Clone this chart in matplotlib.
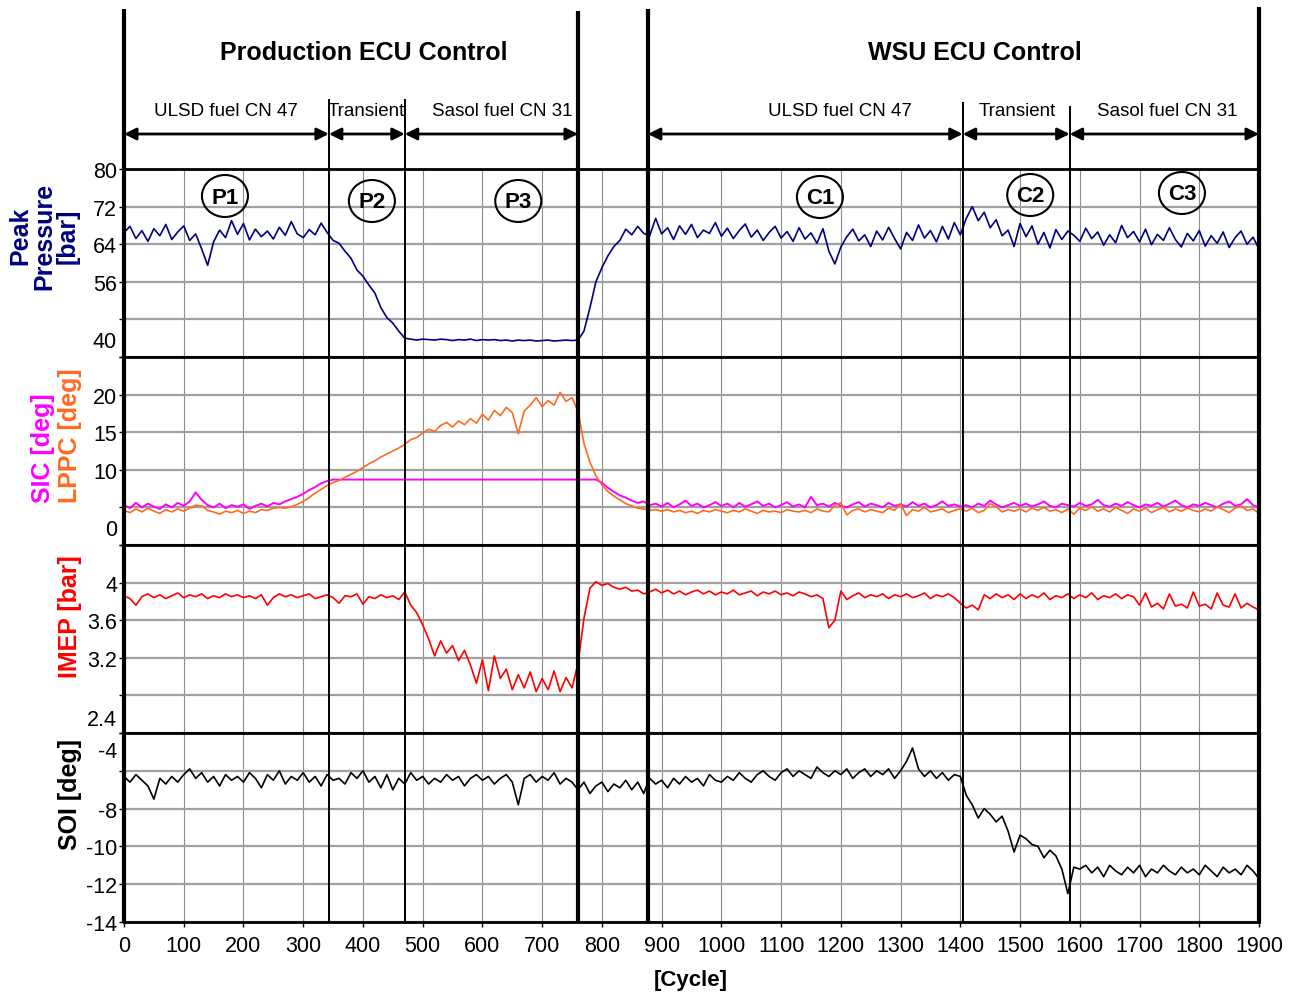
import numpy as np
import matplotlib.pyplot as plt
from matplotlib.patches import Ellipse

plt.rcParams['font.family'] = ['Liberation Sans', 'DejaVu Sans']
ANGOSTA = ['Liberation Sans Narrow', 'Liberation Sans', 'DejaVu Sans']

ciclo = np.arange(0, 1901, 10)

# Peak Pressure [bar]
presion = [
    66.5, 67.8, 65.2, 66.9, 64.6, 67.3, 65.8, 68.2, 65.0, 66.6,
    67.9, 64.8, 66.2, 63.0, 59.5, 64.5, 67.0, 65.4, 69.0, 66.1,
    68.4, 64.9, 67.2, 65.6, 66.8, 65.1, 67.6, 65.9, 68.8, 66.2,
    65.4, 67.1, 66.0, 68.5, 66.5, 64.8, 64.2, 62.5, 61.0, 58.5,
    57.2, 55.3, 53.6, 50.5, 48.4, 47.2, 45.5, 44.0, 43.8, 43.6,
    43.8, 43.7, 43.6, 43.8, 43.7, 43.5, 43.7, 43.6, 43.8, 43.5,
    43.7, 43.6, 43.7, 43.5, 43.6, 43.4, 43.6, 43.5, 43.6, 43.4,
    43.5, 43.6, 43.4, 43.5, 43.6, 43.5, 43.6, 45.5, 50.5, 56.0,
    59.0, 61.5, 63.5, 64.8, 67.2, 66.0, 67.8, 66.3, 65.8, 69.5,
    66.2, 67.5, 65.0, 67.9, 66.1, 68.2, 65.4, 67.0, 66.3, 68.6,
    65.7, 67.4, 65.2, 66.9, 68.3, 65.5, 67.0, 64.8, 66.5, 67.8,
    65.3, 66.7, 64.6, 67.5, 65.1, 66.4, 64.2, 67.3, 62.5, 59.8,
    63.4, 65.6, 67.2, 64.7, 66.0, 63.5, 66.8, 64.9, 67.6, 65.2,
    63.0, 66.5, 64.8, 68.1, 65.3, 66.9, 64.5, 67.8, 65.1, 68.6,
    66.0, 69.5, 72.0, 69.0, 70.8, 67.5, 69.2, 65.8, 67.0, 63.5,
    68.4, 65.6, 67.9, 64.0, 66.5, 63.2, 67.1, 65.0, 66.8, 65.9,
    64.6, 67.4, 65.2, 66.6, 63.8, 66.0, 64.3, 68.0, 65.4, 66.7,
    64.5, 67.2, 63.9, 66.1, 64.8, 67.5, 65.0, 63.4, 66.3, 64.7,
    66.9, 63.6, 65.8, 64.2, 66.6, 63.3, 65.4, 66.8, 64.0, 65.5,
    63.0,
]

# SIC [deg]
sic = [
    5.3, 4.9, 5.6, 5.0, 5.5, 5.1, 4.8, 5.4, 5.0, 5.6,
    5.2, 5.8, 7.0, 6.0, 5.3, 5.0, 5.5, 4.9, 5.3, 5.1,
    5.4, 4.8, 5.2, 5.5, 5.1, 5.6, 5.4, 5.8, 6.1, 6.4,
    6.8, 7.3, 7.7, 8.2, 8.5, 8.7, 8.7, 8.7, 8.7, 8.7,
    8.7, 8.7, 8.7, 8.7, 8.7, 8.7, 8.7, 8.7, 8.7, 8.7,
    8.7, 8.7, 8.7, 8.7, 8.7, 8.7, 8.7, 8.7, 8.7, 8.7,
    8.7, 8.7, 8.7, 8.7, 8.7, 8.7, 8.7, 8.7, 8.7, 8.7,
    8.7, 8.7, 8.7, 8.7, 8.7, 8.7, 8.7, 8.7, 8.7, 8.7,
    8.3, 7.6, 7.1, 6.6, 6.3, 5.9, 5.6, 5.8, 5.3, 5.5,
    5.1, 5.6, 5.0, 5.4, 5.9, 5.2, 5.5, 5.0, 5.3, 5.7,
    5.2, 5.5, 5.0, 5.6, 5.1, 5.4, 5.8, 5.2, 5.5, 5.0,
    5.3, 5.7, 5.1, 5.4, 5.0, 6.4, 5.3, 5.5, 5.1, 5.6,
    5.2, 5.0, 5.4, 5.7, 5.1, 5.5, 5.3, 5.0, 5.6, 5.2,
    5.4, 5.1, 5.7, 5.2, 5.5, 5.0, 5.3, 5.8, 5.2, 5.4,
    5.1, 5.3, 5.0, 5.5, 5.2, 5.9, 5.4, 5.0, 5.3, 5.6,
    5.2, 5.5, 5.1, 5.4, 5.8, 5.2, 5.0, 5.5, 5.3, 5.1,
    5.6, 5.2, 5.4, 6.0, 5.3, 5.1, 5.5, 5.2, 5.7, 5.3,
    5.0, 5.4, 5.2, 5.6, 5.1, 5.5, 5.9, 5.3, 5.0, 5.4,
    5.2, 5.6, 5.3, 5.0, 5.5, 5.8, 5.2, 5.4, 6.1, 5.3,
    5.0,
]

# LPPC [deg]
lppc = [
    4.6, 4.3, 4.8, 4.4, 4.9, 4.5, 4.2, 4.7, 4.4, 4.8,
    4.5, 4.9, 5.3, 5.2, 4.6, 4.4, 4.1, 4.5, 4.3, 4.6,
    4.2, 4.5, 4.3, 4.7, 4.6, 4.9, 5.0, 4.9, 5.1, 5.4,
    5.8, 6.3, 6.9, 7.4, 7.9, 8.3, 8.6, 9.0, 9.4, 9.8,
    10.3, 10.8, 11.2, 11.7, 12.1, 12.5, 12.9, 13.4, 14.0, 14.3,
    14.9, 15.4, 15.1, 15.9, 16.3, 15.7, 16.5, 16.0, 16.8, 16.2,
    17.4, 16.6, 17.9, 17.2, 18.3, 17.6, 14.8, 17.8, 18.6, 19.6,
    18.4, 19.2, 18.6, 20.3, 19.1, 19.6, 17.8, 13.5, 11.0, 9.2,
    8.0, 7.1, 6.5, 6.0, 5.5, 5.2, 4.9, 4.8, 4.6, 4.7,
    4.5, 4.7, 4.4, 4.6, 4.3, 4.5, 4.2, 4.6, 4.4, 4.7,
    4.5, 4.3, 4.6, 4.4, 4.8, 4.5, 4.2, 4.6, 4.4, 4.5,
    4.3, 4.7, 4.5, 4.4, 4.6, 4.3, 4.8, 4.5, 4.4, 5.3,
    5.6, 4.0, 4.6, 4.8, 4.4, 4.7, 4.5, 4.3, 4.9, 4.6,
    5.5, 3.9, 4.7, 4.5, 5.0, 4.4, 4.6, 4.8, 4.3, 4.6,
    4.8, 4.5, 4.9, 4.3, 4.6, 5.5, 5.1, 4.4, 4.7, 4.5,
    4.8, 4.4, 4.9, 4.6, 5.0, 4.5, 4.7, 4.3, 4.8, 4.1,
    4.9, 4.6, 5.1, 4.5, 4.8, 4.4, 5.0, 4.6, 4.2, 4.8,
    4.5, 4.9, 4.3, 4.7, 5.0, 4.4, 4.8, 4.5, 4.9, 4.6,
    4.4, 4.8, 4.5, 5.1, 4.7, 4.3, 4.9, 5.2, 4.6, 4.8,
    4.2,
]

# IMEP [bar]
imep = [
    3.86, 3.83, 3.76, 3.85, 3.88, 3.84, 3.87, 3.83, 3.86, 3.89,
    3.84, 3.87, 3.85, 3.88, 3.83, 3.86, 3.84, 3.88, 3.85, 3.87,
    3.84, 3.86, 3.83, 3.87, 3.76, 3.84, 3.88, 3.85, 3.87, 3.84,
    3.86, 3.88, 3.83, 3.85, 3.87, 3.84, 3.78, 3.86, 3.85, 3.88,
    3.77, 3.85, 3.83, 3.87, 3.84, 3.86, 3.82, 3.90, 3.76, 3.68,
    3.55, 3.40, 3.22, 3.38, 3.25, 3.33, 3.17, 3.28, 3.12, 2.93,
    3.18, 2.85, 3.22, 2.98, 3.08, 2.86, 3.02, 2.88, 3.05, 2.84,
    2.98, 2.86, 3.06, 2.84, 2.99, 2.88, 3.14, 3.62, 3.94, 4.01,
    3.97, 3.99, 3.95, 3.93, 3.95, 3.91, 3.92, 3.88, 3.90, 3.93,
    3.89, 3.92, 3.88, 3.91, 3.87, 3.90, 3.92, 3.88, 3.91, 3.87,
    3.90, 3.88, 3.92, 3.87, 3.89, 3.91, 3.86, 3.90, 3.88, 3.91,
    3.87, 3.89, 3.86, 3.90, 3.88, 3.85, 3.87, 3.83, 3.52, 3.60,
    3.91, 3.82, 3.86, 3.89, 3.84, 3.87, 3.85, 3.88, 3.83, 3.87,
    3.85, 3.88, 3.84, 3.86, 3.89, 3.83, 3.87, 3.85, 3.88, 3.84,
    3.78, 3.73, 3.76, 3.71, 3.87, 3.83, 3.88, 3.84, 3.87, 3.82,
    3.88, 3.83, 3.87, 3.84, 3.89, 3.82, 3.86, 3.84, 3.88, 3.83,
    3.87, 3.84, 3.89, 3.82, 3.86, 3.84, 3.88, 3.83, 3.87, 3.85,
    3.76, 3.89, 3.74, 3.78, 3.72, 3.88, 3.75, 3.77, 3.73, 3.90,
    3.75, 3.77, 3.72, 3.89, 3.76, 3.74, 3.88, 3.73, 3.78, 3.74,
    3.71,
]

# SOI [deg]
soi = [
    -6.3, -6.6, -6.2, -6.5, -6.8, -7.5, -6.4, -6.7, -6.3, -6.6,
    -6.2, -5.9, -6.4, -6.1, -6.6, -6.3, -6.8, -6.2, -6.5, -6.3,
    -6.6, -6.1, -6.4, -6.9, -6.2, -6.5, -6.0, -6.7, -6.3, -6.5,
    -6.1, -6.6, -6.3, -6.8, -6.2, -6.5, -6.4, -6.7, -6.1, -6.4,
    -6.0, -6.6, -6.3, -6.9, -6.2, -7.0, -6.4, -6.7, -6.1, -6.5,
    -6.3, -6.7, -6.4, -6.6, -6.2, -6.5, -6.3, -6.8, -6.4, -6.2,
    -6.5, -6.3, -6.7, -6.4, -6.2, -6.6, -7.8, -6.4, -6.2, -6.6,
    -6.3, -6.5, -6.1, -6.7, -6.4, -6.6, -7.0, -6.6, -7.2, -6.8,
    -6.6, -7.1, -6.7, -6.9, -6.5, -7.0, -6.6, -7.2, -6.4, -6.7,
    -6.5, -6.9, -6.4, -6.7, -6.3, -6.6, -6.4, -6.8, -6.2, -6.5,
    -6.6, -6.3, -6.5, -6.1, -6.4, -6.6, -6.2, -6.0, -6.3, -6.5,
    -6.1, -5.9, -6.3, -6.0, -6.2, -6.4, -5.8, -6.1, -6.3, -6.0,
    -6.2, -5.9, -6.4, -6.1, -5.9, -6.3, -6.0, -6.2, -5.9, -6.4,
    -6.0, -5.5, -4.8, -5.9, -6.3, -6.0, -6.4, -6.1, -6.5, -6.2,
    -6.3, -7.3, -7.8, -8.5, -8.0, -8.3, -8.7, -8.4, -9.2, -10.3,
    -9.4, -9.6, -9.9, -10.0, -10.6, -10.2, -10.5, -11.2, -12.5, -11.1,
    -11.2, -11.0, -11.4, -11.1, -11.6, -11.0, -11.3, -11.5, -11.1, -11.4,
    -11.0, -11.6, -11.2, -11.4, -11.0, -11.3, -11.5, -11.1, -11.4, -11.2,
    -11.5, -11.0, -11.3, -11.6, -11.1, -11.4, -11.2, -11.5, -11.0, -11.3,
    -11.7,
]

# limites de cada tramo (ciclo)
limites_gruesos = [0, 760, 877, 1900]
limites_finos = [343, 470, 1404, 1583]
tramos = [(0, 343), (343, 470), (470, 760), (877, 1404), (1404, 1583), (1583, 1900)]
textos_tramo = ['ULSD fuel CN 47', 'Transient', 'Sasol fuel CN 31',
                'ULSD fuel CN 47', 'Transient', 'Sasol fuel CN 31']
x_texto_tramo = [171, 406, 634, 1198, 1496, 1746]
etiquetas_circulo = ['P1', 'P2', 'P3', 'C1', 'C2', 'C3']
x_circulo = [169, 415, 660, 1165, 1517, 1771]

# --------------------------------------------------------------
W, H = 1298, 995
X0, X1 = 124, 1259
fig = plt.figure(figsize=(W / 100, H / 100), dpi=100)


def caja(top, bot):
    return [X0 / W, 1 - bot / H, (X1 - X0) / W, (bot - top) / H]


paneles = [
    # top, bot, ylim, ticks, etiquetas, etiqueta desplazada (valor, texto, dy pt)
    (170, 358, (40, 80), [40, 48, 56, 64, 72, 80], ['', '', '56', '64', '72', '80'], (40, '40', 11)),
    (358, 546, (0, 25), [0, 5, 10, 15, 20, 25], ['', '', '10', '15', '20', ''], (0, '0', 11)),
    (546, 734, (2.4, 4.4), [2.4, 2.8, 3.2, 3.6, 4.0, 4.4], ['', '', '3.2', '3.6', '4', ''], (2.4, '2.4', 10)),
    (734, 923, (-14, -4), [-14, -12, -10, -8, -6, -4], ['-14', '-12', '-10', '-8', '', ''], (-4, '-4', -13)),
]

ejes = []
for i, (top, bot, lim, yt, yl, desp) in enumerate(paneles):
    ax = fig.add_axes(caja(top, bot))
    ax.set_xlim(0, 1900)
    ax.set_ylim(*lim)
    ax.set_xticks(range(0, 1901, 100))
    ax.set_yticks(yt)
    ax.set_yticklabels(yl)
    ax.set_axisbelow(True)
    ax.grid(axis='x', color='#8c8c8c', lw=0.8)
    ax.grid(axis='y', color='#a0a0a0', lw=1.6)
    for s in ax.spines.values():
        s.set_linewidth(2)
        s.set_color('black')
    ax.tick_params(axis='y', length=3.5, width=1, pad=1.5, labelsize=15.5)
    if i < 3:
        ax.tick_params(axis='x', length=0, labelbottom=False)
    else:
        ax.tick_params(axis='x', length=3.5, width=1, pad=6, labelsize=15.5)
    val, txt, dy = desp
    ax.annotate(txt, xy=(0, val), xycoords=('axes fraction', 'data'),
                xytext=(-5, dy), textcoords='offset points',
                ha='right', va='center', fontsize=15.5)
    ejes.append(ax)

ejes[0].plot(ciclo, presion, color='#000080', lw=1.2)
ejes[1].plot(ciclo, sic, color='#ff00ff', lw=1.4)
ejes[1].plot(ciclo, lppc, color='#ff6a20', lw=1.2)
ejes[2].plot(ciclo, imep, color='#ff0000', lw=1.2)
ejes[3].plot(ciclo, soi, color='black', lw=1.2)

# capa superior para lineas verticales, flechas y textos
ov = fig.add_axes([X0 / W, 0, (X1 - X0) / W, 1], zorder=10)
ov.set_xlim(0, 1900)
ov.set_ylim(H, 0)
ov.axis('off')
ov.patch.set_alpha(0)

for xg, y0 in zip(limites_gruesos, [10, 12, 10, 8]):
    ov.plot([xg, xg], [y0, 923], color='black', lw=3, clip_on=False, solid_capstyle='butt')
for xf, y0 in zip(limites_finos, [100, 100, 103, 107]):
    ov.plot([xf, xf], [y0, 923], color='black', lw=1.4, clip_on=False, solid_capstyle='butt')

for (a, b), txt, xt in zip(tramos, textos_tramo, x_texto_tramo):
    ov.annotate('', xy=(b, 135), xytext=(a, 135),
                arrowprops=dict(arrowstyle='<|-|>', color='black', lw=2,
                                mutation_scale=18, shrinkA=0, shrinkB=0))
    ov.text(xt, 112, txt, ha='center', va='center', fontsize=13.5, family=ANGOSTA)

ov.text(402, 53, 'Production ECU Control', ha='center', va='center',
        fontsize=18, fontweight='bold', family=ANGOSTA)
ov.text(1424, 53, 'WSU ECU Control', ha='center', va='center',
        fontsize=18, fontweight='bold', family=ANGOSTA)

for lab, xc, yc in zip(etiquetas_circulo, x_circulo, [197, 202, 202, 198, 196, 194]):
    ov.add_patch(Ellipse((xc, yc), width=46 / 0.5974, height=42, fill=False,
                         ec='black', lw=1.5))
    ov.text(xc, yc + 1, lab, ha='center', va='center', fontsize=16,
            fontweight='bold', family=ANGOSTA)

# etiquetas de los ejes
fig.text(44 / W, 1 - 236 / H, 'Peak\nPressure\n[bar]', rotation=90, ha='center', va='center',
         multialignment='center', linespacing=1.0, color='#000080', fontsize=18, fontweight='bold')
fig.text(43 / W, 1 - 503 / H, 'SIC [deg]', rotation=90, ha='center', va='bottom',
         color='#ff00ff', fontsize=18, fontweight='bold')
fig.text(70 / W, 1 - 503 / H, 'LPPC [deg]', rotation=90, ha='center', va='bottom',
         color='#ff6a20', fontsize=18, fontweight='bold')
fig.text(70 / W, 1 - 617 / H, 'IMEP [bar]', rotation=90, ha='center', va='center',
         color='#ff0000', fontsize=18, fontweight='bold')
fig.text(70 / W, 1 - 795 / H, 'SOI [deg]', rotation=90, ha='center', va='center',
         color='black', fontsize=18, fontweight='bold')
fig.text(691 / W, 1 - 981 / H, '[Cycle]', ha='center', va='center',
         fontsize=16, fontweight='bold', family=ANGOSTA)

fig.savefig('out.png', dpi=100)
